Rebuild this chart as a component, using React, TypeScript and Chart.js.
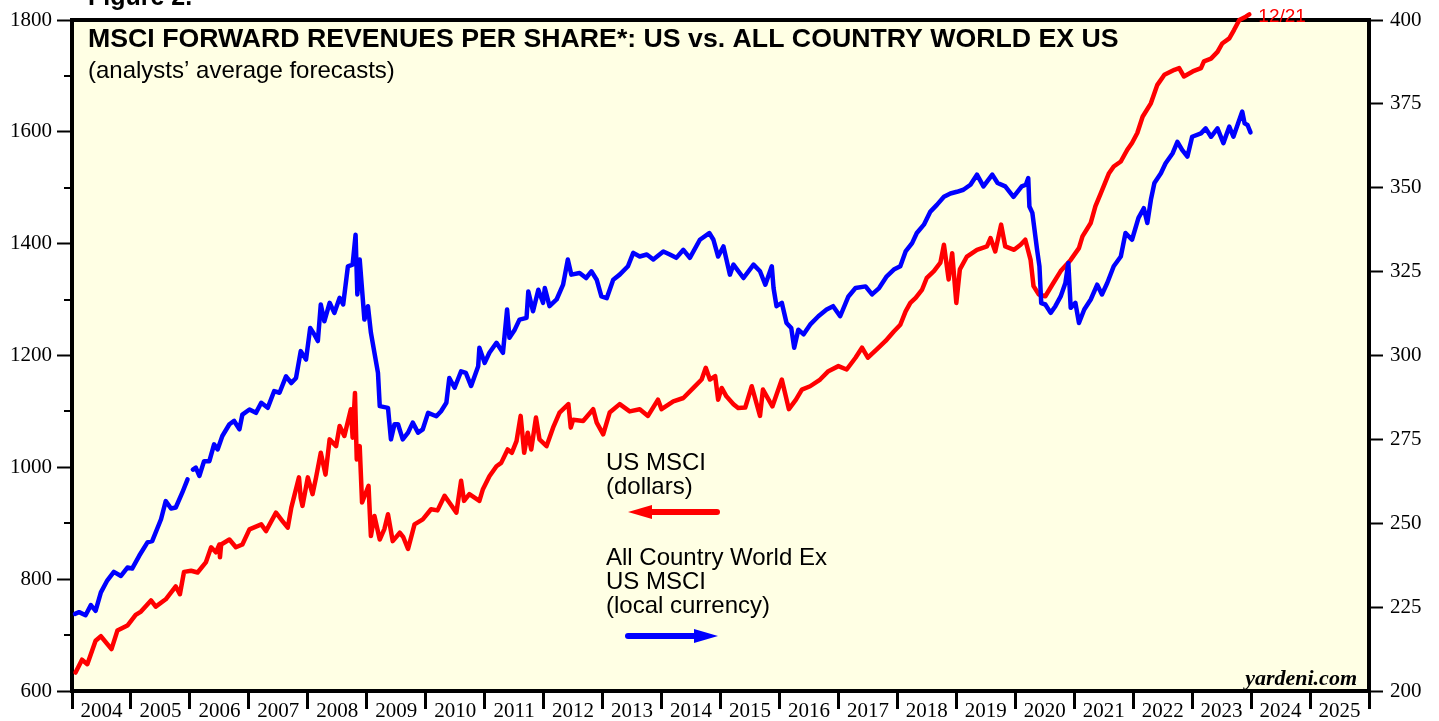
import { useEffect, useRef } from 'react';
import { Chart, registerables } from 'chart.js';

Chart.register(...registerables);

// ---------- DATA ----------
const yearLabels = ['2004','2005','2006','2007','2008','2009','2010','2011','2012','2013','2014','2015','2016','2017','2018','2019','2020','2021','2022','2023','2024','2025'];

// US MSCI forward revenues per share (dollars, left axis)
const usDates = [
  2004.06,2004.17,2004.26,2004.40,2004.49,2004.67,2004.77,2004.94,2005.08,2005.17,2005.34,2005.42,2005.59,2005.76,2005.83,2005.90,
  2006.02,2006.13,2006.27,2006.36,2006.44,2006.50,2006.51,2006.53,2006.67,2006.78,2006.89,2007.01,2007.21,2007.29,2007.46,2007.57,
  2007.66,2007.72,2007.85,2007.88,2007.91,2008.00,2008.08,2008.14,2008.22,2008.30,2008.37,2008.48,2008.54,2008.62,2008.73,2008.76,
  2008.80,2008.83,2008.88,2008.92,2009.03,2009.07,2009.13,2009.22,2009.30,2009.36,2009.44,2009.56,2009.62,2009.70,2009.81,2009.95,
  2010.09,2010.20,2010.32,2010.40,2010.52,2010.60,2010.65,2010.74,2010.91,2010.97,2011.08,2011.20,2011.28,2011.39,2011.46,2011.54,
  2011.61,2011.67,2011.73,2011.79,2011.87,2011.93,2012.05,2012.16,2012.27,2012.42,2012.46,2012.50,2012.67,2012.84,2012.90,2013.01,
  2013.12,2013.29,2013.46,2013.63,2013.77,2013.94,2014.00,2014.20,2014.37,2014.54,2014.68,2014.75,2014.82,2014.91,2014.96,2015.02,
  2015.10,2015.22,2015.30,2015.42,2015.53,2015.67,2015.72,2015.88,2016.04,2016.16,2016.28,2016.38,2016.52,2016.69,2016.83,2017.00,
  2017.14,2017.29,2017.40,2017.50,2017.65,2017.80,2017.94,2018.05,2018.14,2018.22,2018.31,2018.42,2018.50,2018.62,2018.73,2018.79,
  2018.87,2018.93,2019.00,2019.06,2019.18,2019.35,2019.52,2019.58,2019.66,2019.76,2019.83,2019.98,2020.09,2020.17,2020.26,2020.31,
  2020.40,2020.51,2020.63,2020.77,2020.94,2021.08,2021.14,2021.28,2021.36,2021.45,2021.59,2021.67,2021.79,2021.90,2021.98,2022.07,
  2022.16,2022.30,2022.41,2022.53,2022.70,2022.78,2022.86,2023.01,2023.15,2023.20,2023.32,2023.43,2023.51,2023.63,2023.71,2023.80,
  2023.91,2023.97,
];
const usValues = [
  633,656,648,690,698,675,708,717,736,742,762,751,764,787,773,813,
  815,812,830,857,848,862,839,862,871,857,862,889,898,886,919,904,
  892,928,982,945,931,982,952,982,1026,987,1050,1038,1074,1056,1104,1053,
  1133,1014,1038,937,967,877,913,871,890,916,868,883,875,854,898,907,
  925,923,949,937,919,976,940,952,940,961,984,1002,1008,1032,1026,1047,
  1092,1026,1062,1032,1089,1050,1038,1071,1098,1113,1071,1085,1083,1104,1080,1059,
  1098,1113,1100,1104,1092,1121,1104,1118,1124,1142,1157,1178,1157,1163,1121,1142,
  1127,1113,1106,1107,1145,1092,1139,1109,1157,1104,1121,1139,1145,1157,1172,1181,
  1175,1196,1214,1196,1211,1226,1243,1255,1279,1294,1303,1318,1339,1351,1366,1398,
  1336,1383,1294,1354,1377,1389,1395,1410,1386,1434,1395,1389,1398,1407,1371,1324,
  1309,1306,1327,1351,1371,1392,1413,1437,1467,1490,1526,1538,1547,1568,1580,1598,
  1627,1651,1684,1702,1711,1714,1699,1708,1714,1726,1731,1743,1758,1767,1782,1800,
  1806,1810,
];

// All Country World ex US MSCI forward revenues per share (local currency, right axis)
const acwxDates = [
  2004.05,2004.12,2004.23,2004.32,2004.40,2004.49,2004.60,2004.71,2004.83,2004.94,2005.02,2005.14,2005.28,2005.36,2005.51,2005.59,
  2005.68,2005.76,2005.87,2005.96,2006.01,2006.05,2006.10,2006.16,2006.24,2006.33,2006.41,2006.47,2006.55,2006.67,2006.75,2006.84,
  2006.89,2007.01,2007.12,2007.21,2007.32,2007.43,2007.52,2007.63,2007.72,2007.80,2007.88,2007.97,2008.04,2008.11,2008.17,2008.22,
  2008.28,2008.37,2008.45,2008.54,2008.60,2008.68,2008.76,2008.81,2008.84,2008.88,2008.96,2009.02,2009.07,2009.19,2009.22,2009.36,
  2009.41,2009.47,2009.53,2009.61,2009.70,2009.78,2009.87,2009.95,2010.04,2010.18,2010.26,2010.35,2010.40,2010.49,2010.60,2010.68,
  2010.77,2010.89,2010.91,2011.00,2011.08,2011.20,2011.31,2011.38,2011.42,2011.51,2011.59,2011.71,2011.74,2011.82,2011.91,2011.99,
  2012.02,2012.10,2012.22,2012.33,2012.41,2012.47,2012.61,2012.72,2012.81,2012.90,2012.98,2013.07,2013.18,2013.29,2013.43,2013.52,
  2013.63,2013.75,2013.86,2014.03,2014.14,2014.25,2014.37,2014.48,2014.65,2014.81,2014.88,2014.96,2015.05,2015.16,2015.22,2015.39,
  2015.56,2015.67,2015.76,2015.87,2015.90,2015.95,2016.04,2016.12,2016.20,2016.25,2016.32,2016.41,2016.52,2016.66,2016.80,2016.91,
  2017.03,2017.17,2017.29,2017.46,2017.57,2017.69,2017.82,2017.94,2018.05,2018.14,2018.25,2018.33,2018.45,2018.56,2018.67,2018.79,
  2018.90,2019.01,2019.12,2019.24,2019.35,2019.46,2019.61,2019.70,2019.83,2019.97,2020.11,2020.18,2020.22,2020.24,2020.29,2020.37,
  2020.41,2020.44,2020.51,2020.60,2020.68,2020.77,2020.85,2020.90,2020.94,2021.02,2021.08,2021.17,2021.28,2021.39,2021.47,2021.56,
  2021.67,2021.79,2021.87,2021.98,2022.09,2022.18,2022.24,2022.30,2022.36,2022.47,2022.55,2022.67,2022.75,2022.83,2022.92,2023.00,
  2023.15,2023.23,2023.32,2023.43,2023.53,2023.63,2023.70,2023.78,2023.85,2023.89,2023.94,2023.99,
];
const acwxValues = [
  223.0,223.5,222.6,225.6,223.9,229.4,233.0,235.5,234.3,236.8,236.5,240.3,244.3,244.7,251.2,256.6,
  254.4,254.7,259.1,263.1,null,266.0,266.6,264.1,268.5,268.5,273.5,272.0,276.0,279.5,280.5,278.0,
  282.4,283.9,282.9,285.9,284.4,289.4,288.9,293.8,291.8,293.3,301.3,298.8,308.2,306.3,304.3,315.2,
  310.2,315.7,312.7,317.2,315.2,326.6,327.1,336.0,318.2,328.6,310.7,314.7,306.8,294.8,284.9,284.4,
  275.0,279.5,279.5,275.0,277.0,280.0,277.0,278.0,282.9,281.9,283.4,285.9,293.3,290.4,295.3,294.8,
  290.9,296.8,302.3,297.8,300.8,303.8,300.8,313.7,305.3,307.7,310.7,311.2,319.1,313.2,319.6,315.7,
  320.1,314.7,316.7,321.1,328.6,324.1,324.6,323.1,325.1,322.6,317.6,317.1,322.6,324.1,326.6,330.6,
  329.5,330.1,328.6,331.0,330.1,329.1,331.5,329.1,334.5,336.5,334.5,329.5,332.5,324.1,327.1,323.1,
  327.1,325.1,321.1,326.6,320.1,314.7,315.7,309.7,308.2,302.3,307.7,306.3,309.2,311.7,313.7,314.7,
  311.7,317.6,320.1,320.6,318.2,320.1,323.6,325.6,326.6,331.0,333.5,336.5,339.0,342.9,344.9,347.3,
  348.3,348.8,349.4,350.9,353.9,350.4,353.9,351.4,350.4,347.3,350.4,350.9,352.9,344.4,342.5,331.5,
  326.6,315.6,315.2,312.7,314.7,317.6,321.6,327.6,314.2,315.7,309.7,313.7,316.7,321.1,318.2,321.6,
  326.6,329.5,336.5,334.5,341.0,343.9,339.5,346.4,351.4,354.3,357.3,360.3,363.7,361.3,359.3,365.2,
  366.2,367.7,365.2,367.7,363.3,368.2,365.2,369.2,372.7,369.2,368.7,366.5,
];

const leftMinorTicks = [700, 900, 1100, 1300, 1500, 1700];
const endLabel = '12/21';

// ---------- PLUGIN ----------
const decorPlugin = {
  id: 'decor',
  beforeDraw(chart: any) {
    const { ctx, chartArea } = chart;
    const { left, top, right, bottom } = chartArea;
    ctx.save();
    ctx.fillStyle = '#FFFFE4';
    ctx.fillRect(left, top, right - left, bottom - top);
    ctx.restore();
  },
  beforeDatasetsDraw(chart: any) {
    const { ctx, chartArea, scales } = chart;
    const { left, top, right, bottom } = chartArea;
    ctx.save();
    ctx.strokeStyle = '#000';
    ctx.lineWidth = 4;
    ctx.strokeRect(left, top, right - left, bottom - top);
    // minor ticks on left axis
    ctx.lineWidth = 2;
    for (const v of leftMinorTicks) {
      const y = Math.round(scales.y.getPixelForValue(v));
      ctx.beginPath();
      ctx.moveTo(left - 8, y);
      ctx.lineTo(left, y);
      ctx.stroke();
    }
    ctx.restore();
  },
  afterDraw(chart: any) {
    const { ctx, scales } = chart;
    ctx.save();
    ctx.textBaseline = 'alphabetic';
    ctx.textAlign = 'left';
    // Figure label (partially cut at top)
    ctx.fillStyle = '#000';
    ctx.font = 'bold 25px "Liberation Sans", Arial, sans-serif';
    ctx.fillText('Figure 2.', 88, 5);
    // Title
    ctx.font = 'bold 26.7px "Liberation Sans", Arial, sans-serif';
    ctx.fillText('MSCI FORWARD REVENUES PER SHARE*: US vs. ALL COUNTRY WORLD EX US', 88, 47);
    ctx.font = '24px "Liberation Sans", Arial, sans-serif';
    ctx.fillText('(analysts\u2019 average forecasts)', 88, 78);
    // Legend texts
    ctx.fillText('US MSCI', 606, 470);
    ctx.fillText('(dollars)', 606, 494);
    ctx.fillText('All Country World Ex', 606, 565);
    ctx.fillText('US MSCI', 606, 589);
    ctx.fillText('(local currency)', 606, 613);
    // arrows
    const arrow = (x1: number, x2: number, y: number, color: string, dir: number) => {
      ctx.strokeStyle = color;
      ctx.fillStyle = color;
      ctx.lineWidth = 6;
      ctx.lineCap = 'round';
      const tip = dir < 0 ? x1 : x2;
      const base = tip - dir * 24;
      ctx.beginPath();
      if (dir < 0) { ctx.moveTo(x2, y); ctx.lineTo(base, y); } else { ctx.moveTo(x1, y); ctx.lineTo(base, y); }
      ctx.stroke();
      ctx.beginPath();
      ctx.moveTo(tip, y);
      ctx.lineTo(base, y - 7);
      ctx.lineTo(base, y + 7);
      ctx.closePath();
      ctx.fill();
    };
    arrow(628, 717, 512, '#FF0000', -1);
    arrow(628, 718, 636, '#0000FF', 1);
    // end label
    const lx = scales.x.getPixelForValue(usDates[usDates.length - 1]);
    const ly = scales.y.getPixelForValue(usValues[usValues.length - 1]);
    ctx.fillStyle = '#FF0000';
    ctx.font = '19px "Liberation Sans", Arial, sans-serif';
    ctx.fillText(endLabel, lx + 9, ly + 8);
    // source
    ctx.fillStyle = '#000';
    ctx.textAlign = 'right';
    ctx.font = 'bold italic 22px "Liberation Serif", "Times New Roman", serif';
    ctx.fillText('yardeni.com', 1357, 685);
    ctx.restore();
  },
};

const serif = { family: '"Liberation Serif", "Times New Roman", serif', size: 21 };

export default function App() {
  const ref = useRef<HTMLCanvasElement | null>(null);
  useEffect(() => {
    if (!ref.current) return;
    const chart = new Chart(ref.current, {
      type: 'line',
      data: {
        datasets: [
          {
            label: 'All Country World Ex US MSCI (local currency)',
            data: acwxDates.map((x, i) => ({ x, y: acwxValues[i] as any })),
            yAxisID: 'y1',
            borderColor: '#0000FF',
            borderWidth: 4.5,
            pointRadius: 0,
            tension: 0,
            spanGaps: false,
            borderJoinStyle: 'round',
            borderCapStyle: 'round',
          },
          {
            label: 'US MSCI (dollars)',
            data: usDates.map((x, i) => ({ x, y: usValues[i] })),
            yAxisID: 'y',
            borderColor: '#FF0000',
            borderWidth: 4.5,
            pointRadius: 0,
            tension: 0,
            borderJoinStyle: 'round',
            borderCapStyle: 'round',
            clip: { left: 5, top: 20, right: 5, bottom: 5 } as any,
          },
        ],
      },
      options: {
        animation: false,
        responsive: false,
        devicePixelRatio: 1,
        layout: { padding: { top: 20, left: 0, right: 0, bottom: 0 } },
        plugins: { legend: { display: false }, tooltip: { enabled: false }, title: { display: false } },
        scales: {
          x: {
            type: 'linear',
            position: 'bottom',
            min: 2004,
            max: 2026,
            afterBuildTicks: (scale: any) => {
              const t = [];
              for (let v = 2004; v <= 2026; v += 0.5) t.push({ value: v });
              scale.ticks = t;
            },
            afterFit: (scale: any) => { scale.height = 30; },
            border: { display: false },
            grid: {
              drawOnChartArea: false,
              drawTicks: true,
              tickLength: 18,
              tickWidth: 3,
              tickColor: (c: any) => (c.tick && c.tick.value % 1 === 0 ? '#000' : 'rgba(0,0,0,0)'),
            },
            ticks: {
              autoSkip: false,
              maxRotation: 0,
              minRotation: 0,
              padding: -10,
              color: '#000',
              font: serif,
              callback: (v: any) => {
                const n = Number(v);
                return n % 1 === 0.5 ? yearLabels[Math.floor(n) - 2004] : '';
              },
            },
          },
          y: {
            type: 'linear',
            position: 'left',
            min: 600,
            max: 1800,
            afterFit: (scale: any) => { scale.width = 72; },
            border: { display: false },
            grid: { drawOnChartArea: false, tickLength: 15, tickWidth: 2, tickColor: '#000' },
            ticks: { stepSize: 200, padding: 5, color: '#000', font: serif, callback: (v: any) => String(v) },
          },
          y1: {
            type: 'linear',
            position: 'right',
            min: 200,
            max: 400,
            afterFit: (scale: any) => { scale.width = 70; },
            border: { display: false },
            grid: { drawOnChartArea: false, tickLength: 14, tickWidth: 2, tickColor: '#000' },
            ticks: { stepSize: 25, padding: 7, color: '#000', font: serif, callback: (v: any) => String(v) },
          },
        },
      },
      plugins: [decorPlugin],
    } as any);
    return () => chart.destroy();
  }, []);
  return (
    <div style={{ position: 'fixed', left: 0, top: 0, width: 1439, height: 721, background: '#fff' }}>
      <canvas ref={ref} width={1439} height={721} style={{ width: 1439, height: 721, display: 'block' }} />
    </div>
  );
}
